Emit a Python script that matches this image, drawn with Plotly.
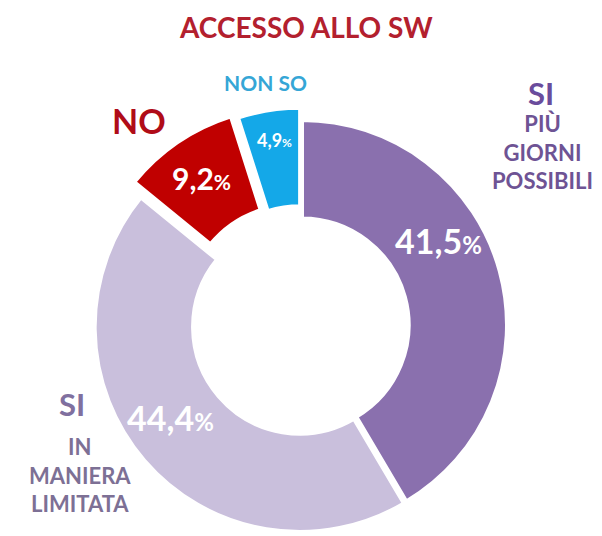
import plotly.graph_objects as go

# Donut: access to smart working
categories = ["SI più giorni possibili", "SI in maniera limitata", "NO", "NON SO"]
values = [41.5, 44.4, 9.2, 4.9]
colors = ["#8A70AE", "#C9BFDC", "#C00000", "#14A8E8"]
pulls = [0.0, 0.015, 0.078, 0.06]

title_text = "ACCESSO ALLO SW"

W, H = 602, 546
CX, CY, R = 302, 325, 205
FONT = "Lato, 'Open Sans', sans-serif"

max_pull = max(pulls)
half = R * (1 + max_pull)
dom_x = [(CX - half) / W, (CX + half) / W]
dom_y = [0, (2 * (H - CY)) / H]

fig = go.Figure(
    go.Pie(
        values=values,
        labels=categories,
        sort=False,
        direction="clockwise",
        rotation=0,
        hole=0.52,
        pull=pulls,
        marker=dict(colors=colors, line=dict(color="white", width=4)),
        textinfo="none",
        hoverinfo="label+percent",
        showlegend=False,
        domain=dict(x=dom_x, y=dom_y),
    )
)


def px(x, y):
    return x / W, 1 - y / H


def fmt(v, size):
    num = f"{v:.1f}".replace(".", ",")
    return f"{num}<span style='font-size:{size}px'>%</span>"


annotations = []

# values inside the slices
value_pos = [(438, 240), (171, 417), (201, 178), (274, 140)]
value_size = [34, 34, 30, 18]
for v, (x, y), s in zip(values, value_pos, value_size):
    ax, ay = px(x, y)
    annotations.append(dict(
        x=ax, y=ay, xref="paper", yref="paper", showarrow=False,
        text=f"<b>{fmt(v, int(s * 0.72))}</b>",
        font=dict(family=FONT, size=s, color="white"),
        xanchor="center", yanchor="middle",
    ))

# outside category labels: (text, x, y, size, color)
outside_labels = [
    (title_text, 306, 27, 28, "#B3202E"),
    ("NO", 139, 120, 34, "#B00C18"),
    ("NON SO", 265, 82, 21, "#35A6D6"),
    ("SI", 541, 93, 31, "#6A4C9C"),
    ("PIÙ<br>GIORNI<br>POSSIBILI", 542, 152, 22, "#6E5394"),
    ("SI", 72, 404, 31, "#80709F"),
    ("IN<br>MANIERA<br>LIMITATA", 80, 475, 22, "#7D7095"),
]
for text, x, y, s, c in outside_labels:
    ax, ay = px(x, y)
    annotations.append(dict(
        x=ax, y=ay, xref="paper", yref="paper", showarrow=False,
        text=f"<b>{text}</b>",
        font=dict(family=FONT, size=s, color=c),
        xanchor="center", yanchor="middle", align="center",
    ))

fig.update_layout(
    width=W,
    height=H,
    margin=dict(l=0, r=0, t=0, b=0),
    paper_bgcolor="white",
    plot_bgcolor="white",
    annotations=annotations,
)

fig.write_html(
    "out.html",
    post_script="document.documentElement.style.overflow='hidden';document.body.style.overflow='hidden';",
)
